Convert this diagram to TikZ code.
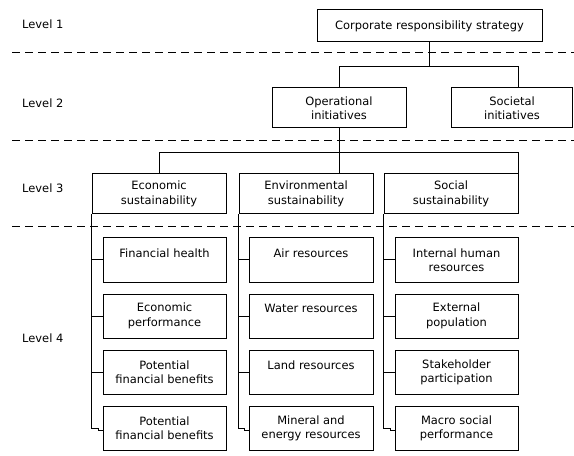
\documentclass[tikz,border=0pt]{standalone}
\usepackage{fontspec}
\setmainfont{DejaVu Sans}
\usetikzlibrary{calc}
\begin{document}
\begin{tikzpicture}[x=1bp,y=-1bp,
  every node/.style={font=\fontsize{11.5}{14.5}\selectfont, inner sep=0pt},
  box/.style={draw, line width=1bp, align=center, minimum height=40bp},
  lbox/.style={draw, line width=1bp, align=center, minimum height=44bp},
  conn/.style={line width=1bp},
  sep/.style={line width=1bp, dash pattern=on 8bp off 5bp},
  lvl/.style={anchor=west}]
\useasboundingbox[fill=white] (0,0) rectangle (574,456);
% separators
\coordinate (s1a) at (12,53); \coordinate (s1b) at (574,53);
\coordinate (s2a) at (12,141); \coordinate (s2b) at (574,141);
\coordinate (s3a) at (12,227); \coordinate (s3b) at (574,227);
\draw[sep] (s1a) -- (s1b);
\draw[sep] (s2a) -- (s2b);
\draw[sep] (s3a) -- (s3b);
% level labels
\node[lvl] (lv1) at (22,24) {Level 1};
\node[lvl] (lv2) at (22,103) {Level 2};
\node[lvl] (lv3) at (22,188) {Level 3};
\node[lvl] (lv4) at (22,338) {Level 4};
% level 1
\node[box, minimum width=225bp, minimum height=32bp] (crs) at (429.5,26) {Corporate responsibility strategy};
% level 2
\node[box, minimum width=134bp] (oper) at (339,108) {Operational\\initiatives};
\node[box, minimum width=121bp] (soc) at (512,108) {Societal\\initiatives};
% level 3
\node[box, minimum width=134bp] (econ) at (159,194) {Economic\\sustainability};
\node[box, minimum width=134bp] (env) at (306,194) {Environmental\\sustainability};
\node[box, minimum width=134bp] (socs) at (451,194) {Social\\sustainability};
% level 4 column 1
\node[lbox, minimum width=123bp] (f1) at (164.5,260) {Financial health\\\mbox{}};
\node[lbox, minimum width=123bp] (f2) at (164.5,316) {Economic\\performance};
\node[lbox, minimum width=123bp] (f3) at (164.5,372.5) {Potential\\financial benefits};
\node[lbox, minimum width=123bp] (f4) at (164.5,428.5) {Potential\\financial benefits};
% column 2
\node[lbox, minimum width=124bp] (e1) at (311,260) {Air resources\\\mbox{}};
\node[lbox, minimum width=124bp] (e2) at (311,316) {Water resources\\\mbox{}};
\node[lbox, minimum width=124bp] (e3) at (311,372.5) {Land resources\\\mbox{}};
\node[lbox, minimum width=124bp] (e4) at (311,428.5) {Mineral and\\energy resources};
% column 3
\node[lbox, minimum width=123bp] (r1) at (456.5,260) {Internal human\\resources};
\node[lbox, minimum width=123bp] (r2) at (456.5,316) {External\\population};
\node[lbox, minimum width=123bp] (r3) at (456.5,372.5) {Stakeholder\\participation};
\node[lbox, minimum width=123bp] (r4) at (456.5,428.5) {Macro social\\performance};
% connectors level 1 -> 2
\coordinate (j1) at ($(crs.south)+(0,24)$);
\draw[conn] (crs.south) -- (j1);
\draw[conn] (oper.north) |- (j1) -| ($(soc.north)+(6,0)$);
% level 2 -> 3
\coordinate (j2) at ($(oper.south)+(0,24)$);
\draw[conn] (oper.south) -- (oper.south |- env.north);
\draw[conn] (econ.north) |- (j2) -| (socs.north east);
% level 3 -> 4
\foreach \p/\c in {econ/f, env/e, socs/r} {
  \draw[conn] (\p.south west) |- (\c1.west);
  \draw[conn] (\p.south west) |- (\c2.west);
  \draw[conn] (\p.south west) |- (\c3.west);
  \draw[conn] (\p.south west) |- ($(\c4.west)+(-4,-0.5)$) |- ($(\c4.west)+(0,2)$);
}
\end{tikzpicture}
\end{document}
